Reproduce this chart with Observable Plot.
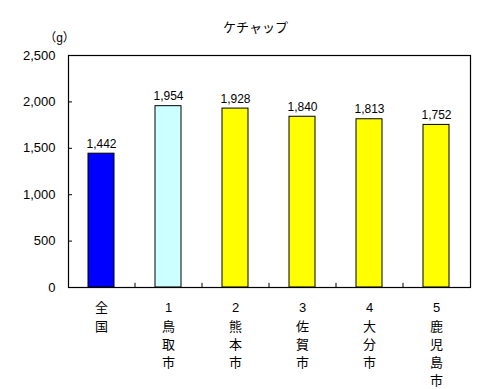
<!DOCTYPE html>
<html><head><meta charset="utf-8">
<script src="https://cdn.jsdelivr.net/npm/d3@7"></script>
<script src="https://cdn.jsdelivr.net/npm/@observablehq/plot@0.6"></script>
<style>body{margin:0;background:#fff}</style>
</head><body><div id="chart"></div>
<script>
const title = "ケチャップ";
const unit = "（g）";
const categories = ["全国","1鳥取市","2熊本市","3佐賀市","4大分市","5鹿児島市"];
const values = [1442,1954,1928,1840,1813,1752];
const colors = ["#0000ff","#ccffff","#ffff00","#ffff00","#ffff00","#ffff00"];
const yTicks = [0,500,1000,1500,2000,2500];

const data = categories.map((c,i)=>({cat:c, value:values[i], color:colors[i]}));
const fmt = d3.format(",");
const font = "'MS PGothic','Liberation Sans','Noto Sans CJK JP',sans-serif";

const chart = Plot.plot({
  width: 481, height: 389,
  marginTop: 55, marginLeft: 68, marginRight: 11, marginBottom: 102,
  x: {domain: categories, paddingInner: 0.61, paddingOuter: 0.305, axis: null, label: null},
  y: {domain: [0,2500], axis: null, label: null},
  color: {type: "identity"},
  style: {fontFamily: font, background: "white", color: "black", overflow: "visible"},
  marks: [
    Plot.barY(data, {x:"cat", y:"value", fill:"color", stroke:"black", strokeWidth:1}),
    Plot.frame({stroke:"black", strokeWidth:1.2}),
    Plot.axisY({ticks: yTicks, tickFormat: fmt, tickSize: -4, tickPadding: 17, fontSize: 13, label: null}),
    Plot.axisX({tickSize: 0, tickPadding: 12, fontSize: 13, lineHeight: 1.4, label: null,
      tickFormat: d => d.split("").join("\n")}),
    Plot.ruleX(categories.slice(1), {x: d=>d, dx: -33.5, y1: 0, y2: 45, stroke:"black", strokeWidth:1}),
    Plot.text(data, {x:"cat", y:"value", text: d=>fmt(d.value), lineAnchor:"bottom", dy:-6, fontSize:12}),
    Plot.text([title], {frameAnchor:"top", dx:-14, dy:-33, fontSize:13}),
    Plot.text([unit], {frameAnchor:"top-left", textAnchor:"middle", dx:-9, dy:-22, fontSize:12})
  ]
});
document.getElementById("chart").appendChild(chart);
</script></body></html>
